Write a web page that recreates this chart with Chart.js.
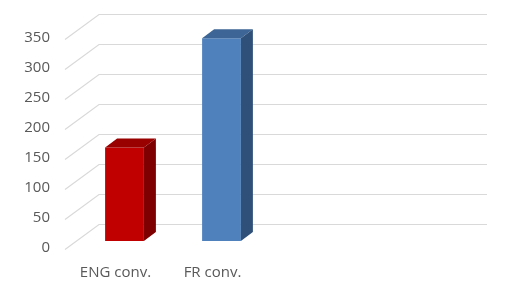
<!DOCTYPE html>
<html>
<head>
<meta charset="utf-8">
<script src="https://cdn.jsdelivr.net/npm/chart.js@4"></script>
<style>
html,body{margin:0;padding:0;background:#fff;}
canvas{display:block;}
</style>
</head>
<body>
<canvas id="chart" width="513" height="293"></canvas>
<script>
// data
const categories = ["ENG conv.", "FR conv.", "", ""];
const values = [156, 338, null, null];
const frontColors = ["#C00000", "#4F81BD", "#C00000", "#4F81BD"];
const topColors = ["#990000", "#3D6595", "#990000", "#3D6595"];
const sideColors = ["#7F0000", "#2F5079", "#7F0000", "#2F5079"];
const yTicks = [0, 50, 100, 150, 200, 250, 300, 350];

/* -------- 3D look -------- */

const depth = {dx: 12, dy: -9};

const wallPlugin = {
  id: "wall",
  beforeDatasetsDraw(chart){
    const ctx = chart.ctx;
    const y = chart.scales.y;
    const a = chart.chartArea;
    ctx.save();
    ctx.strokeStyle = "#D9D9D9";
    ctx.lineWidth = 1.2;
    yTicks.forEach(v=>{
      const py = Math.round(y.getPixelForValue(v)) + 0.5;
      ctx.beginPath();
      ctx.moveTo(a.left - 11, py + 8);
      ctx.lineTo(a.left + 23, py - 17);
      ctx.lineTo(a.right + 23, py - 17);
      ctx.stroke();
    });
    ctx.restore();
  },
  afterDatasetsDraw(chart){
    const ctx = chart.ctx;
    const meta = chart.getDatasetMeta(0);
    ctx.save();
    meta.data.forEach((bar, i)=>{
      if(values[i] == null) return;
      const p = bar.getProps(["x","y","base","width"], true);
      const l = p.x - p.width/2, r = p.x + p.width/2;
      const t = p.y, b = p.base;
      // top face
      ctx.fillStyle = topColors[i];
      ctx.beginPath();
      ctx.moveTo(l, t);
      ctx.lineTo(l + depth.dx, t + depth.dy);
      ctx.lineTo(r + depth.dx, t + depth.dy);
      ctx.lineTo(r, t);
      ctx.closePath();
      ctx.fill();
      // side face
      ctx.fillStyle = sideColors[i];
      ctx.beginPath();
      ctx.moveTo(r, t);
      ctx.lineTo(r + depth.dx, t + depth.dy);
      ctx.lineTo(r + depth.dx, b + depth.dy);
      ctx.lineTo(r, b);
      ctx.closePath();
      ctx.fill();
    });
    ctx.restore();
  }
};

new Chart(document.getElementById("chart"), {
  type: "bar",
  data: {
    labels: categories,
    datasets: [{
      data: values,
      backgroundColor: frontColors,
      borderWidth: 0,
      categoryPercentage: 1,
      barPercentage: 0.4
    }]
  },
  options: {
    responsive: false,
    animation: false,
    layout: {padding: {top: 31, right: 49, left: 0, bottom: 0}},
    plugins: {legend: {display: false}, tooltip: {enabled: false}},
    scales: {
      x: {
        grid: {display: false, drawTicks: true, tickLength: 23},
        border: {display: false},
        ticks: {
          color: "#595959",
          font: {family: "Open Sans", size: 15},
          padding: 0,
          labelOffset: -9,
          maxRotation: 0,
          autoSkip: false
        },
        afterFit(scale){ scale.height = 52; }
      },
      y: {
        min: 0,
        max: 350,
        grid: {display: false, drawTicks: true, tickLength: 26},
        border: {display: false},
        ticks: {
          stepSize: 50,
          color: "#595959",
          font: {family: "Open Sans", size: 15},
          padding: 0,
          labelOffset: 7
        },
        afterFit(scale){ scale.width = 76; }
      }
    }
  },
  plugins: [wallPlugin]
});
</script>
</body>
</html>
